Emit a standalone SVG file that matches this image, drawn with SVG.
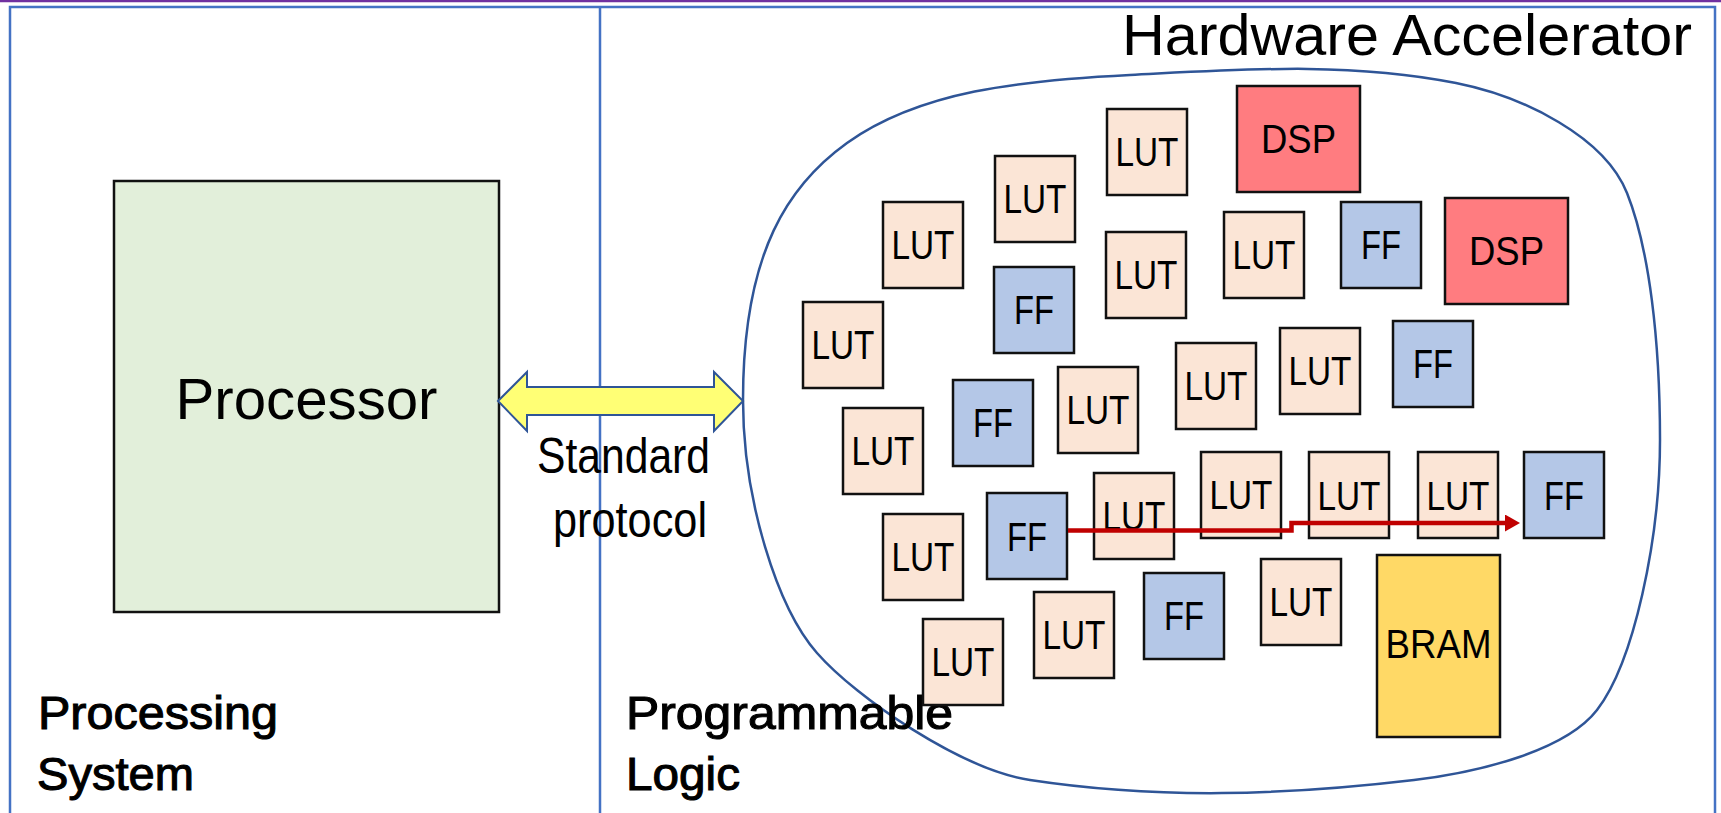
<svg xmlns="http://www.w3.org/2000/svg" width="1721" height="813" viewBox="0 0 1721 813">
<style>
  text { font-family: "Liberation Sans", Arial, sans-serif; fill: #000; }
  .box { stroke: #111; stroke-width: 2.5; }
  .lut { fill: #FBE5D6; }
  .ff { fill: #B4C7E7; }
  .dsp { fill: #FF7C80; }
  .bram { fill: #FFD966; }
  .lbl { font-size: 40px; text-anchor: middle; }
  .sec { font-size: 47px; stroke: #000; stroke-width: 1.1; }
  .frame { fill: none; stroke: #4472C4; stroke-width: 2.5; }
</style>
<defs>
  <marker id="redHead" markerUnits="userSpaceOnUse" markerWidth="16" markerHeight="17" refX="0" refY="8.5" orient="auto">
    <path d="M0,0 L15,8.5 L0,17 Z" fill="#C00000"/>
  </marker>
</defs>
<rect width="1721" height="813" fill="#fff"/>
<line x1="0" y1="1" x2="1721" y2="1" stroke="#7030A0" stroke-width="2.5"/>
<g id="frame">
  <rect class="frame" x="10" y="7" width="1705" height="830"/>
  <line class="frame" x1="600" y1="7" x2="600" y2="813" stroke-width="3"/>
</g>
<g id="accelerator">
  <path d="M743,400 C743,250 790,184 847,143 C920,91 1020,80.5 1130,75 C1240,69.5 1348,61.4 1456,83 C1524.6,96.7 1604.8,137.2 1627,193 C1649.2,248.8 1660,340 1660,440 C1660,540 1633.6,662.6 1597,710 C1566.5,749.5 1483.5,771.7 1414,780 C1285,795.3 1158.6,799.6 1030,780 C960.8,769.4 856.6,698 817,653 C777.4,608 743,500 743,400 Z" fill="none" stroke="#2F5597" stroke-width="2.5"/>
  <text x="1122" y="55" font-size="58" textLength="570" lengthAdjust="spacingAndGlyphs">Hardware Accelerator</text>
</g>
<g id="processor">
  <rect x="114" y="181" width="385" height="431" fill="#E2EFDA" stroke="#111" stroke-width="2.5"/>
  <text x="306.5" y="419" font-size="58" text-anchor="middle" textLength="262" lengthAdjust="spacingAndGlyphs">Processor</text>
</g>
<g id="labels">
  <text class="sec" x="38" y="729" textLength="240" lengthAdjust="spacingAndGlyphs">Processing</text>
  <text class="sec" x="37" y="790" textLength="157" lengthAdjust="spacingAndGlyphs">System</text>
  <text class="sec" x="626" y="729" textLength="327" lengthAdjust="spacingAndGlyphs">Programmable</text>
  <text class="sec" x="626" y="790" textLength="114" lengthAdjust="spacingAndGlyphs">Logic</text>
  <text x="623.5" y="473" font-size="50" text-anchor="middle" textLength="173" lengthAdjust="spacingAndGlyphs">Standard</text>
  <text x="630" y="537" font-size="50" text-anchor="middle" textLength="154" lengthAdjust="spacingAndGlyphs">protocol</text>
</g>
<g id="n1"><rect class="box lut" x="1107" y="109" width="80" height="86"/><text class="lbl" x="1147" y="166" textLength="63" lengthAdjust="spacingAndGlyphs">LUT</text></g>
<g id="n2"><rect class="box dsp" x="1237" y="86" width="123" height="106"/><text class="lbl" x="1298.5" y="153" textLength="75" lengthAdjust="spacingAndGlyphs">DSP</text></g>
<g id="n3"><rect class="box lut" x="995" y="156" width="80" height="86"/><text class="lbl" x="1035" y="213" textLength="63" lengthAdjust="spacingAndGlyphs">LUT</text></g>
<g id="n4"><rect class="box lut" x="883" y="202" width="80" height="86"/><text class="lbl" x="923" y="259" textLength="63" lengthAdjust="spacingAndGlyphs">LUT</text></g>
<g id="n5"><rect class="box ff" x="994" y="267" width="80" height="86"/><text class="lbl" x="1034" y="324" textLength="40" lengthAdjust="spacingAndGlyphs">FF</text></g>
<g id="n6"><rect class="box lut" x="1106" y="232" width="80" height="86"/><text class="lbl" x="1146" y="289" textLength="63" lengthAdjust="spacingAndGlyphs">LUT</text></g>
<g id="n7"><rect class="box lut" x="1224" y="212" width="80" height="86"/><text class="lbl" x="1264" y="269" textLength="63" lengthAdjust="spacingAndGlyphs">LUT</text></g>
<g id="n8"><rect class="box ff" x="1341" y="202" width="80" height="86"/><text class="lbl" x="1381" y="259" textLength="40" lengthAdjust="spacingAndGlyphs">FF</text></g>
<g id="n9"><rect class="box dsp" x="1445" y="198" width="123" height="106"/><text class="lbl" x="1506.5" y="265" textLength="75" lengthAdjust="spacingAndGlyphs">DSP</text></g>
<g id="n10"><rect class="box lut" x="803" y="302" width="80" height="86"/><text class="lbl" x="843" y="359" textLength="63" lengthAdjust="spacingAndGlyphs">LUT</text></g>
<g id="n11"><rect class="box lut" x="1280" y="328" width="80" height="86"/><text class="lbl" x="1320" y="385" textLength="63" lengthAdjust="spacingAndGlyphs">LUT</text></g>
<g id="n12"><rect class="box ff" x="1393" y="321" width="80" height="86"/><text class="lbl" x="1433" y="378" textLength="40" lengthAdjust="spacingAndGlyphs">FF</text></g>
<g id="n13"><rect class="box lut" x="1176" y="343" width="80" height="86"/><text class="lbl" x="1216" y="400" textLength="63" lengthAdjust="spacingAndGlyphs">LUT</text></g>
<g id="n14"><rect class="box lut" x="1058" y="367" width="80" height="86"/><text class="lbl" x="1098" y="424" textLength="63" lengthAdjust="spacingAndGlyphs">LUT</text></g>
<g id="n15"><rect class="box ff" x="953" y="380" width="80" height="86"/><text class="lbl" x="993" y="437" textLength="40" lengthAdjust="spacingAndGlyphs">FF</text></g>
<g id="n16"><rect class="box lut" x="843" y="408" width="80" height="86"/><text class="lbl" x="883" y="465" textLength="63" lengthAdjust="spacingAndGlyphs">LUT</text></g>
<g id="n17"><rect class="box lut" x="883" y="514" width="80" height="86"/><text class="lbl" x="923" y="571" textLength="63" lengthAdjust="spacingAndGlyphs">LUT</text></g>
<g id="n18"><rect class="box ff" x="987" y="493" width="80" height="86"/><text class="lbl" x="1027" y="551" textLength="40" lengthAdjust="spacingAndGlyphs">FF</text></g>
<g id="n19"><rect class="box lut" x="1094" y="473" width="80" height="86"/><text class="lbl" x="1134" y="530" textLength="63" lengthAdjust="spacingAndGlyphs">LUT</text></g>
<g id="n20"><rect class="box lut" x="1201" y="452" width="80" height="86"/><text class="lbl" x="1241" y="509" textLength="63" lengthAdjust="spacingAndGlyphs">LUT</text></g>
<g id="n21"><rect class="box lut" x="1309" y="452" width="80" height="86"/><text class="lbl" x="1349" y="510" textLength="63" lengthAdjust="spacingAndGlyphs">LUT</text></g>
<g id="n22"><rect class="box lut" x="1418" y="452" width="80" height="86"/><text class="lbl" x="1458" y="510" textLength="63" lengthAdjust="spacingAndGlyphs">LUT</text></g>
<g id="n23"><rect class="box ff" x="1524" y="452" width="80" height="86"/><text class="lbl" x="1564" y="510" textLength="40" lengthAdjust="spacingAndGlyphs">FF</text></g>
<g id="n24"><rect class="box bram" x="1377" y="555" width="123" height="182"/><text class="lbl" x="1438.5" y="658" textLength="106" lengthAdjust="spacingAndGlyphs">BRAM</text></g>
<g id="n25"><rect class="box lut" x="1261" y="559" width="80" height="86"/><text class="lbl" x="1301" y="616" textLength="63" lengthAdjust="spacingAndGlyphs">LUT</text></g>
<g id="n26"><rect class="box ff" x="1144" y="573" width="80" height="86"/><text class="lbl" x="1184" y="630" textLength="40" lengthAdjust="spacingAndGlyphs">FF</text></g>
<g id="n27"><rect class="box lut" x="1034" y="592" width="80" height="86"/><text class="lbl" x="1074" y="649" textLength="63" lengthAdjust="spacingAndGlyphs">LUT</text></g>
<g id="n28"><rect class="box lut" x="923" y="619" width="80" height="86"/><text class="lbl" x="963" y="676" textLength="63" lengthAdjust="spacingAndGlyphs">LUT</text></g>
<g id="connectors">
  <polygon points="498,401 527,372 527,387 714,387 714,372 743,401 714,431 714,415 527,415 527,431" fill="#FFFF75" stroke="#2F5597" stroke-width="2"/>
  <path d="M1068,530.5 H1291.5 V523 H1505" fill="none" stroke="#C00000" stroke-width="4.5" marker-end="url(#redHead)"/>
</g>
</svg>
